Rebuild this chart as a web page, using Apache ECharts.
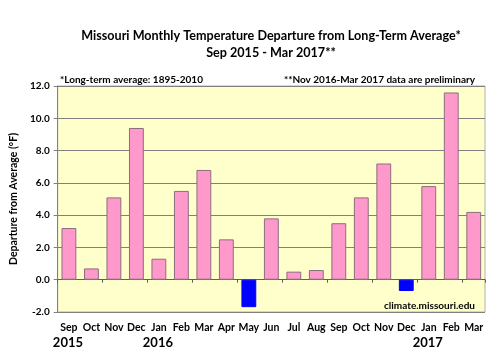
<!DOCTYPE html>
<html><head><meta charset="utf-8">
<script src="https://cdn.jsdelivr.net/npm/echarts@6/dist/echarts.min.js"></script>
<style>html,body{margin:0;padding:0;background:#fff}#c{width:500px;height:356px}</style>
</head><body><div id="c"></div>
<script>
const months = ['Sep','Oct','Nov','Dec','Jan','Feb','Mar','Apr','May','Jun','Jul','Aug','Sep','Oct','Nov','Dec','Jan','Feb','Mar'];
const years = ['2015','','','','2016','','','','','','','','','','','','2017','',''];
const departures = [3.2,0.7,5.1,9.4,1.3,5.5,6.8,2.5,-1.7,3.8,0.5,0.6,3.5,5.1,7.2,-0.7,5.8,11.6,4.2];
const yTicks = {min:-2, max:12, interval:2};

const F = 'Lato, "Liberation Sans", sans-serif';
const chart = echarts.init(document.getElementById('c'), null, {renderer:'canvas'});
chart.setOption({
  animation:false,
  title:[
    {text:'Missouri Monthly Temperature Departure from Long-Term Average*\nSep 2015 - Mar 2017**', left:266, top:22, textAlign:'center',
     textStyle:{fontFamily:F,fontWeight:'bold',fontSize:12.6,color:'#000',lineHeight:17}},
    {text:'*Long-term average: 1895-2010', left:55, top:70, textStyle:{fontFamily:F,fontWeight:'bold',fontSize:10,color:'#000'}},
    {text:'**Nov 2016-Mar 2017 data are preliminary', right:20, top:70, textStyle:{fontFamily:F,fontWeight:'bold',fontSize:10,color:'#000'}},
    {text:'climate.missouri.edu', right:20, top:296, textStyle:{fontFamily:F,fontWeight:'bold',fontSize:10,color:'#000'}}
  ],
  grid:{left:55, right:15, top:86, bottom:44, show:true, backgroundColor:'#FFFFCC', borderColor:'#B0B0B0', borderWidth:1},
  xAxis:[
    {type:'category', data:months, position:'bottom', axisLine:{onZero:false, show:false}, axisTick:{show:false},
     axisLabel:{interval:0, margin:9, formatter:(v,i)=> years[i] ? '{m|'+v+'}\n{y|'+years[i]+'}' : '{m|'+v+'}\n{y| }',
       rich:{m:{fontFamily:F,fontWeight:'bold',fontSize:10.5,color:'#000',lineHeight:14,align:'center'},
             y:{fontFamily:F,fontWeight:'bold',fontSize:13,color:'#000',lineHeight:15,align:'left', padding:[0,0,0,-2]}}}},
    {type:'category', data:months, position:'bottom', axisLine:{onZero:true, show:true, lineStyle:{color:'#606060',width:1}},
     axisTick:{show:true, length:3, lineStyle:{color:'#606060'}}, axisLabel:{show:false}}
  ],
  yAxis:{type:'value', min:yTicks.min, max:yTicks.max, interval:yTicks.interval,
    name:'Departure from Average (°F)', nameLocation:'middle', nameGap:34, nameRotate:90,
    nameTextStyle:{fontFamily:F,fontWeight:'bold',fontSize:10.5,color:'#000'},
    axisLine:{show:true,lineStyle:{color:'#808080'}}, axisTick:{show:true,length:4,lineStyle:{color:'#808080'}},
    axisLabel:{formatter:v=>v.toFixed(1), fontFamily:F,fontWeight:'bold',fontSize:10,color:'#000', margin:8},
    splitLine:{lineStyle:{color:'#808080',width:1}}},
  series:[{type:'bar', xAxisIndex:0, data:departures.map(v=>({value:v, itemStyle:{color: v<0?'#0000FF':'#FF99CC', borderColor: v<0?'#0000FF':'#8a6e7e', borderWidth:1}})),
    barCategoryGap:'34%'}]
});
</script></body></html>
